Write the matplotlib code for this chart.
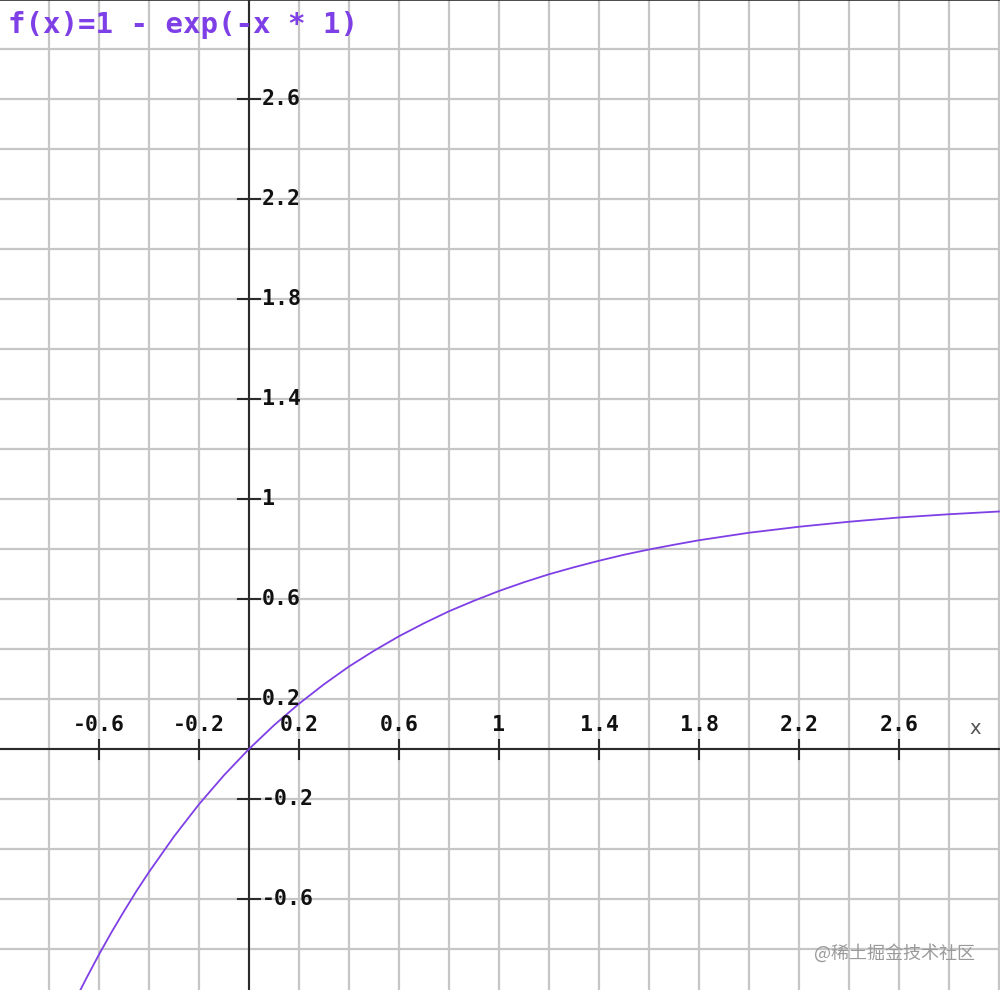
"""Plot of f(x) = 1 - exp(-x) on a square grid, axes crossing at the origin."""
import matplotlib

matplotlib.use("Agg")
import matplotlib.pyplot as plt  # noqa: E402

# curve values
curve_x = [-0.7, -0.65, -0.6, -0.55, -0.5, -0.45, -0.4, -0.3, -0.2, -0.1, 0.0,
           0.1, 0.2, 0.3, 0.4, 0.5, 0.6, 0.7, 0.8, 0.9, 1.0, 1.1, 1.2, 1.3,
           1.4, 1.5, 1.6, 1.7, 1.8, 1.9, 2.0, 2.2, 2.4, 2.6, 2.8, 3.0]
curve_y = [-1.014, -0.916, -0.822, -0.733, -0.649, -0.568, -0.492, -0.350,
           -0.221, -0.105, 0.0, 0.095, 0.181, 0.259, 0.330, 0.393, 0.451,
           0.503, 0.551, 0.593, 0.632, 0.667, 0.699, 0.727, 0.753, 0.777,
           0.798, 0.817, 0.835, 0.850, 0.865, 0.889, 0.909, 0.926, 0.939,
           0.950]

x_ticks = [-0.6, -0.2, 0.2, 0.6, 1.0, 1.4, 1.8, 2.2, 2.6]
x_tick_labels = ["-0.6", "-0.2", "0.2", "0.6", "1", "1.4", "1.8", "2.2", "2.6"]
y_ticks = [-0.6, -0.2, 0.2, 0.6, 1.0, 1.4, 1.8, 2.2, 2.6]
y_tick_labels = ["-0.6", "-0.2", "0.2", "0.6", "1", "1.4", "1.8", "2.2", "2.6"]
grid_x = [round(-0.8 + 0.2 * i, 1) for i in range(20)]
grid_y = [round(-0.8 + 0.2 * i, 1) for i in range(20)]

title = "f(x)=1 - exp(-x * 1)"
purple = "#7f3fe6"
axis_col = "#2b2b2b"
mono = "DejaVu Sans Mono"

fig = plt.figure(figsize=(10, 9.9), dpi=100)
ax = fig.add_axes([0, 0, 1, 1])
ax.set_xlim(-0.996, 3.004)
ax.set_ylim(-0.964, 2.996)

# background grid
for gx in grid_x:
    ax.axvline(gx, color="#c6c6c6", lw=1.6, zorder=1)
for gy in grid_y:
    ax.axhline(gy, color="#c6c6c6", lw=1.6, zorder=1)

# axes through the origin
ax.axhline(0, color=axis_col, lw=1.5, zorder=2)
ax.axvline(0, color=axis_col, lw=1.5, zorder=2)

for spine in ["left", "right", "bottom"]:
    ax.spines[spine].set_visible(False)
ax.spines["top"].set_color(axis_col)
ax.spines["top"].set_linewidth(1.2)
ax.set_xticks([])
ax.set_yticks([])

# tick marks + labels
for xv, lab in zip(x_ticks, x_tick_labels):
    ax.plot([xv, xv], [-0.04, 0.036], color=axis_col, lw=1.5, zorder=2)
    ax.annotate(lab, (xv, 0), xytext=(0, 17), textcoords="offset points",
                ha="center", va="center", fontsize=15.5, fontweight="bold",
                family=mono, color="#111111", zorder=4)
for yv, lab in zip(y_ticks, y_tick_labels):
    ax.plot([-0.044, 0.044], [yv, yv], color=axis_col, lw=1.5, zorder=2)
    ax.annotate(lab, (0, yv), xytext=(9, 0), textcoords="offset points",
                ha="left", va="center", fontsize=15.5, fontweight="bold",
                family=mono, color="#111111", zorder=4)

ax.annotate("x", (3.004, 0), xytext=(-18, 15), textcoords="offset points",
            ha="center", va="center", fontsize=14, family="DejaVu Sans",
            color="#555555")

# the function curve
ax.plot(curve_x, curve_y, color=purple, lw=1.3, zorder=3)

fig.text(0.008, 0.975, title, ha="left", va="center", fontsize=21,
         fontweight="bold", family=mono, color=purple)

fig.text(0.975, 0.037, "@稀土掘金技术社区", ha="right", va="center",
         fontsize=13, family=["Noto Sans CJK SC", "DejaVu Sans"],
         color="#9a9a9a")

fig.savefig("out.png", dpi=100)
plt.close(fig)
